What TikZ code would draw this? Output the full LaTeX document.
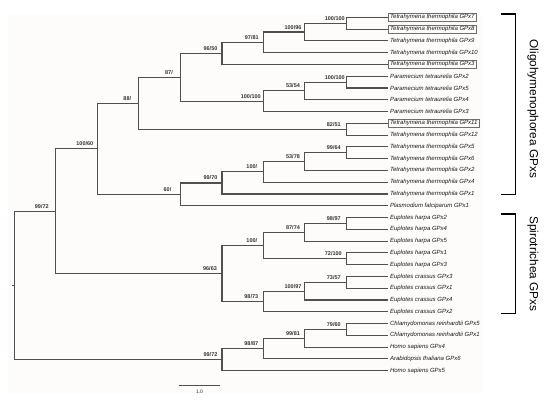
\documentclass[tikz,border=0pt]{standalone}
\usepackage{fontspec}
\newfontfamily\lsans{Liberation Sans}
\definecolor{branch}{RGB}{80,80,80}
\definecolor{bgc}{RGB}{253,252,251}
\definecolor{boxc}{RGB}{110,110,110}
\begin{document}
\begin{tikzpicture}[x=1pt,y=-1pt,
  br/.style={draw=branch, line width=1.15pt},
  leaf/.style={anchor=west, inner xsep=1.8pt, inner ysep=0pt, minimum height=8.6pt,
    font=\lsans\itshape\fontsize{6}{7}\selectfont, text=black!90},
  boxed/.style={draw=boxc, line width=0.55pt},
  bs/.style={anchor=base, inner sep=0pt, font=\lsans\bfseries\fontsize{5.5}{6}\selectfont, text=black!80},
  grp/.style={rotate=-90, inner sep=0pt, font=\lsans\fontsize{11.8}{14}\selectfont},
  brk/.style={draw=black, line width=1.3pt},
  sbar/.style={draw=branch, line width=0.7pt}]
\useasboundingbox (0,0) rectangle (550,401);
\fill[bgc] (8,15) rectangle (482,393);

% leaves
\node[leaf,boxed] (L1) at (388,17.30) {Tetrahymena thermophila GPx7};
\node[leaf,boxed] (L2) at (388,29.08) {Tetrahymena thermophila GPx8};
\node[leaf] (L3) at (388,40.86) {Tetrahymena thermophila GPx9};
\node[leaf] (L4) at (388,52.64) {Tetrahymena thermophila GPx10};
\node[leaf,boxed] (L5) at (388,64.42) {Tetrahymena thermophila GPx3};
\node[leaf] (L6) at (388,76.20) {Paramecium tetraurelia GPx2};
\node[leaf] (L7) at (388,87.98) {Paramecium tetraurelia GPx5};
\node[leaf] (L8) at (388,99.76) {Paramecium tetraurelia GPx4};
\node[leaf] (L9) at (388,111.54) {Paramecium tetraurelia GPx3};
\node[leaf,boxed] (L10) at (388,123.32) {Tetrahymena thermophila GPx11};
\node[leaf] (L11) at (388,135.10) {Tetrahymena thermophila GPx12};
\node[leaf] (L12) at (388,146.88) {Tetrahymena thermophila GPx5};
\node[leaf] (L13) at (388,158.66) {Tetrahymena thermophila GPx6};
\node[leaf] (L14) at (388,170.44) {Tetrahymena thermophila GPx2};
\node[leaf] (L15) at (388,182.22) {Tetrahymena thermophila GPx4};
\node[leaf] (L16) at (388,194.00) {Tetrahymena thermophila GPx1};
\node[leaf] (L17) at (388,205.78) {Plasmodium falciparum GPx1};
\node[leaf] (L18) at (388,217.56) {Euplotes harpa GPx2};
\node[leaf] (L19) at (388,229.34) {Euplotes harpa GPx4};
\node[leaf] (L20) at (388,241.12) {Euplotes harpa GPx5};
\node[leaf] (L21) at (388,252.90) {Euplotes harpa GPx1};
\node[leaf] (L22) at (388,264.68) {Euplotes harpa GPx3};
\node[leaf] (L23) at (388,276.46) {Euplotes crassus GPx3};
\node[leaf] (L24) at (388,288.24) {Euplotes crassus GPx1};
\node[leaf] (L25) at (388,300.02) {Euplotes crassus GPx4};
\node[leaf] (L26) at (388,311.80) {Euplotes crassus GPx2};
\node[leaf] (L27) at (388,323.58) {Chlamydomonas reinhardtii GPx5};
\node[leaf] (L28) at (388,335.36) {Chlamydomonas reinhardtii GPx1};
\node[leaf] (L29) at (388,347.14) {Homo sapiens GPx4};
\node[leaf] (L30) at (388,358.92) {Arabidopsis thaliana GPx6};
\node[leaf] (L31) at (388,370.70) {Homo sapiens GPx5};

% internal nodes
\coordinate (a1) at (346.3,23.19);
\coordinate (a2) at (304.5,32.03);
\coordinate (a3) at (263.3,42.33);
\coordinate (a4) at (222,53.38);
\coordinate (b1) at (346.3,82.09);
\coordinate (b2) at (304.5,90.92);
\coordinate (b3) at (263.3,101.23);
\coordinate (c1) at (180.5,77.30);
\coordinate (d1) at (346.3,129.21);
\coordinate (c2) at (138.8,103.26);
\coordinate (e1) at (346.3,152.77);
\coordinate (e2) at (304.5,161.60);
\coordinate (e3) at (263.3,171.91);
\coordinate (e4) at (222,182.96);
\coordinate (e5) at (180.5,194.37);
\coordinate (f1) at (97.3,148.81);
\coordinate (g1) at (346.3,223.45);
\coordinate (g2) at (304.5,232.28);
\coordinate (g3) at (346.3,258.79);
\coordinate (g4) at (263.3,245.54);
\coordinate (h1) at (346.3,282.35);
\coordinate (h2) at (304.5,291.19);
\coordinate (h3) at (263.3,301.49);
\coordinate (g5) at (222,273.52);
\coordinate (i1) at (55.8,211.16);
\coordinate (k1) at (346.3,329.47);
\coordinate (k2) at (304.5,338.31);
\coordinate (k3) at (263.3,348.61);
\coordinate (k4) at (222,359.66);
\coordinate (root) at (14.3,285.41);
\coordinate (rstub) at (12.3,285.41);

% branches
\foreach \p/\c in {a1/L1.west,a1/L2.west,a2/a1,a2/L3.west,a3/a2,a3/L4.west,a4/a3,a4/L5.west,
  b1/L6.west,b1/L7.west,b2/b1,b2/L8.west,b3/b2,b3/L9.west,c1/a4,c1/b3,
  d1/L10.west,d1/L11.west,c2/c1,c2/d1,
  e1/L12.west,e1/L13.west,e2/e1,e2/L14.west,e3/e2,e3/L15.west,e4/e3,e4/L16.west,e5/e4,e5/L17.west,
  f1/c2,f1/e5,
  g1/L18.west,g1/L19.west,g2/g1,g2/L20.west,g3/L21.west,g3/L22.west,g4/g2,g4/g3,
  h1/L23.west,h1/L24.west,h2/h1,h2/L25.west,h3/h2,h3/L26.west,g5/g4,g5/h3,
  i1/f1,i1/g5,
  k1/L27.west,k1/L28.west,k2/k1,k2/L29.west,k3/k2,k3/L30.west,k4/k3,k4/L31.west,
  root/i1,root/k4}
  \draw[br] (\p) |- (\c);
\draw[br] (rstub) -- (root);

% bootstrap labels
\node[bs] (ta1) at ([xshift=-11.5pt,yshift=3pt]a1) {100/100};
\node[bs] (ta2) at ([xshift=-11.5pt,yshift=3pt]a2) {100/96};
\node[bs] (ta3) at ([xshift=-11.5pt,yshift=3pt]a3) {97/81};
\node[bs] (ta4) at ([xshift=-11.5pt,yshift=3pt]a4) {96/50};
\node[bs] (tb1) at ([xshift=-11.5pt,yshift=3pt]b1) {100/100};
\node[bs] (tb2) at ([xshift=-11.5pt,yshift=3pt]b2) {53/54};
\node[bs] (tb3) at ([xshift=-12.5pt,yshift=3pt]b3) {100/100};
\node[bs] (tc1) at ([xshift=-11.5pt,yshift=3pt]c1) {87/};
\node[bs] (td1) at ([xshift=-12.5pt,yshift=3pt]d1) {82/51};
\node[bs] (tc2) at ([xshift=-11.5pt,yshift=3pt]c2) {88/};
\node[bs] (te1) at ([xshift=-12.5pt,yshift=3pt]e1) {99/64};
\node[bs] (te2) at ([xshift=-11.5pt,yshift=3pt]e2) {53/78};
\node[bs] (te3) at ([xshift=-11.5pt,yshift=3pt]e3) {100/};
\node[bs] (te4) at ([xshift=-11.5pt,yshift=3pt]e4) {99/70};
\node[bs] (te5) at ([xshift=-13pt,yshift=3pt]e5) {60/};
\node[bs] (tf1) at ([xshift=-12.5pt,yshift=3pt]f1) {100/60};
\node[bs] (tg1) at ([xshift=-12.5pt,yshift=3pt]g1) {98/97};
\node[bs] (tg2) at ([xshift=-11.5pt,yshift=3pt]g2) {87/74};
\node[bs] (tg3) at ([xshift=-13pt,yshift=3pt]g3) {72/100};
\node[bs] (tg4) at ([xshift=-11.5pt,yshift=3pt]g4) {100/};
\node[bs] (th1) at ([xshift=-12.5pt,yshift=3pt]h1) {73/57};
\node[bs] (th2) at ([xshift=-11.5pt,yshift=3pt]h2) {100/97};
\node[bs] (th3) at ([xshift=-12pt,yshift=3pt]h3) {98/73};
\node[bs] (tg5) at ([xshift=-12pt,yshift=3pt]g5) {96/63};
\node[bs] (ti1) at ([xshift=-14pt,yshift=3pt]i1) {99/72};
\node[bs] (tk1) at ([xshift=-12.5pt,yshift=3pt]k1) {79/60};
\node[bs] (tk2) at ([xshift=-11.5pt,yshift=3pt]k2) {99/81};
\node[bs] (tk3) at ([xshift=-12pt,yshift=3pt]k3) {98/87};
\node[bs] (tk4) at ([xshift=-11.5pt,yshift=3pt]k4) {99/72};

% scale bar
\coordinate (s1) at (179,385);
\coordinate (s2) at (220,385);
\draw[sbar] (s1) -- (s2);
\node[inner sep=0pt, font=\lsans\fontsize{5}{6}\selectfont, text=black!80] (sl) at (199.5,391.5) {1.0};

% group brackets
\coordinate (o1) at (501,14);
\coordinate (o2) at (515.7,14);
\coordinate (o3) at (515.7,194.3);
\coordinate (o4) at (501,194.3);
\draw[brk] (o1) -- (o2) -- (o3) -- (o4);
\coordinate (p1) at (501,214);
\coordinate (p2) at (515.7,214);
\coordinate (p3) at (515.7,313.3);
\coordinate (p4) at (501,313.3);
\draw[brk] (p1) -- (p2) -- (p3) -- (p4);
\node[grp] (og) at (533,109) {Oligohymenophorea GPxs};
\node[grp] (sg) at (533,264) {Spirotrichea GPxs};
\end{tikzpicture}
\end{document}
